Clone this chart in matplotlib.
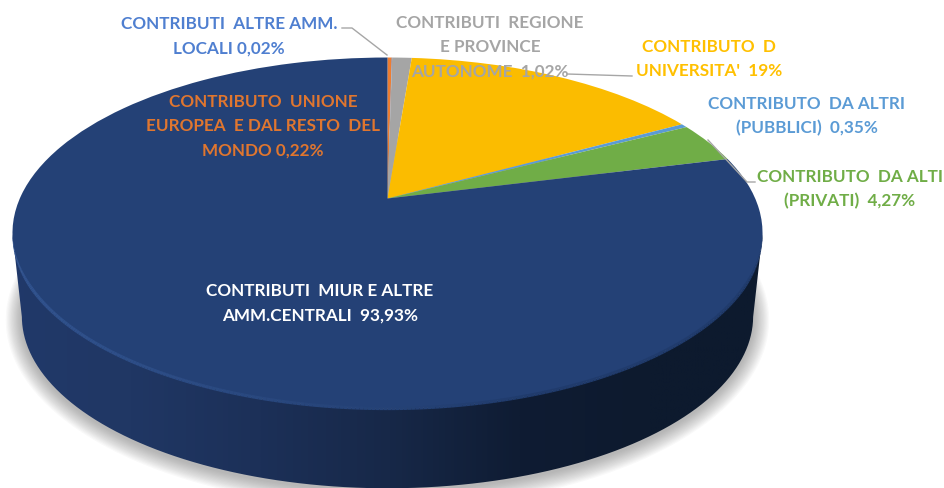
import numpy as np
import matplotlib
matplotlib.use("Agg")
import matplotlib.pyplot as plt
from matplotlib.transforms import Transform
from matplotlib.colors import LinearSegmentedColormap
from matplotlib.collections import LineCollection
from matplotlib.patches import PathPatch
from matplotlib.path import Path

# Slice order runs clockwise from 12 o'clock; shares are as seen in the picture
categories = ["Unione Europea", "Altre Amm. locali", "Regione e Province",
              "Universita'", "Altri pubblici", "Altri privati", "MIUR e Amm. centrali"]
slice_shares = [0.22, 0.02, 1.02, 15.75, 0.35, 3.7, 78.94]
slice_colors = ["#ED7D31", "#4472C4", "#A5A5A5", "#FBBC00", "#5B9BD5", "#70AD47", "#244176"]

label_texts = [
    "CONTRIBUTO  UNIONE\nEUROPEA  E DAL RESTO  DEL\nMONDO 0,22%",
    "CONTRIBUTI  ALTRE AMM.\nLOCALI 0,02%",
    "CONTRIBUTI  REGIONE\nE PROVINCE\nAUTONOME  1,02%",
    "CONTRIBUTO  D\nUNIVERSITA'  19%",
    "CONTRIBUTO  DA ALTRI\n(PUBBLICI)  0,35%",
    "CONTRIBUTO  DA ALTI\n(PRIVATI)  4,27%",
    "CONTRIBUTI  MIUR E ALTRE\nAMM.CENTRALI  93,93%",
]
label_colors = ["#E0762F", "#4F7FD0", "#A5A5A5", "#FFC000", "#5B9BD5", "#70AD47", "#FFFFFF"]
label_xy = [(263, 126), (229, 36), (490, 47), (709, 59), (807, 116), (850, 189), (320, 303)]

APEX = (387.5, 198.5)
K = 0.1966
TOP_A, TOP_B = 367.7, 168.7


class Tilt(Transform):
    """Perspective view of the unit disc, in image pixels."""
    input_dims = output_dims = 2

    def __init__(self, a=TOP_A, b=TOP_B, dy=0.0):
        super().__init__()
        self.a, self.b, self.dy = a, b, dy

    def transform_non_affine(self, v):
        v = np.asarray(v, float)
        w = 1 + K * v[:, 1]
        return np.column_stack([APEX[0] + self.a * v[:, 0] / w,
                                APEX[1] + self.dy - self.b * v[:, 1] / w])


top_tilt = Tilt()
bottom_tilt = Tilt(TOP_A * 0.975, TOP_B * 0.98, 84)
t = np.linspace(0, 2 * np.pi, 721)
circle = np.column_stack([np.cos(t), np.sin(t)])


def lower_half(tilt):
    pts = tilt.transform_non_affine(circle)
    mid = (pts[:, 1].min() + pts[:, 1].max()) / 2
    pts = pts[pts[:, 1] >= mid]
    return pts[np.argsort(pts[:, 0])]


fig = plt.figure(figsize=(9.45, 4.88), dpi=100, facecolor="white")
ax = fig.add_axes([0, 0, 1, 1])

top_rim = lower_half(top_tilt)
bot_rim = lower_half(bottom_tilt)
side_poly = np.vstack([top_rim, bot_rim[::-1]])

# soft shadow
bot_all = bottom_tilt.transform_non_affine(circle)
cx, cy = bot_all[:, 0].mean(), bot_all[:, 1].mean()
for grow in np.linspace(16, 1, 14):
    sx = (bot_all[:, 0] - cx) * (1 + grow / 365) + cx
    sy = (bot_all[:, 1] - cy) * (1 + grow / 173) + cy + 2
    ax.fill(sx, sy, color="#444444", alpha=0.03, lw=0, zorder=1)

# side wall with horizontal shading
cmap = LinearSegmentedColormap.from_list(
    "wall", ["#21396A", "#203764", "#1C3058", "#172848", "#0F1C33", "#0D1A2E", "#0D1A2E"])
im = ax.imshow(np.linspace(0, 1, 512)[None, :], extent=(0, 780, 500, 200),
               cmap=cmap, aspect="auto", zorder=2)
im.set_clip_path(PathPatch(Path(side_poly), transform=ax.transData))

# top face
wedges, _ = ax.pie(slice_shares, colors=slice_colors, startangle=90, counterclock=False,
                   radius=1, center=(0, 0))
for w in wedges:
    w.set_transform(top_tilt + ax.transData)
    w.set_clip_on(False)
    w.set_linewidth(0)
    w.set_zorder(3)

# bevel along the front edge, tapering to nothing at both ends
segs = np.stack([top_rim[:-1], top_rim[1:]], axis=1)
mix = np.clip((top_rim[:-1, 0] - 11) / 520, 0, 1)[:, None]
c0, c1 = np.array(matplotlib.colors.to_rgb("#31538F")), np.array(matplotlib.colors.to_rgb("#203B6C"))
frac = np.linspace(0, 1, len(segs))
taper = np.clip(np.minimum(frac, 1 - frac) * 9, 0, 1)
ax.add_collection(LineCollection(segs, colors=c0 * (1 - mix) + c1 * mix,
                                 linewidths=2.4 * taper, zorder=4))

# leader lines
line_style = dict(color="#A6A6A6", lw=1.0, zorder=5)
ax.plot([342, 352, 387], [28, 28, 55], **line_style)
ax.plot([567, 632], [74, 76], **line_style)
ax.plot([708, 747, 755], [140, 182, 182], **line_style)

for text, col, (x, y) in zip(label_texts, label_colors, label_xy):
    ax.text(x, y, text, color=col, ha="center", va="center", family="Lato", weight="bold",
            fontsize=12.3, linespacing=1.62, zorder=6)

ax.set_aspect("auto")
ax.set_xlim(0, 945)
ax.set_ylim(488, 0)
ax.axis("off")
fig.savefig("out.png", dpi=100, facecolor="white")
